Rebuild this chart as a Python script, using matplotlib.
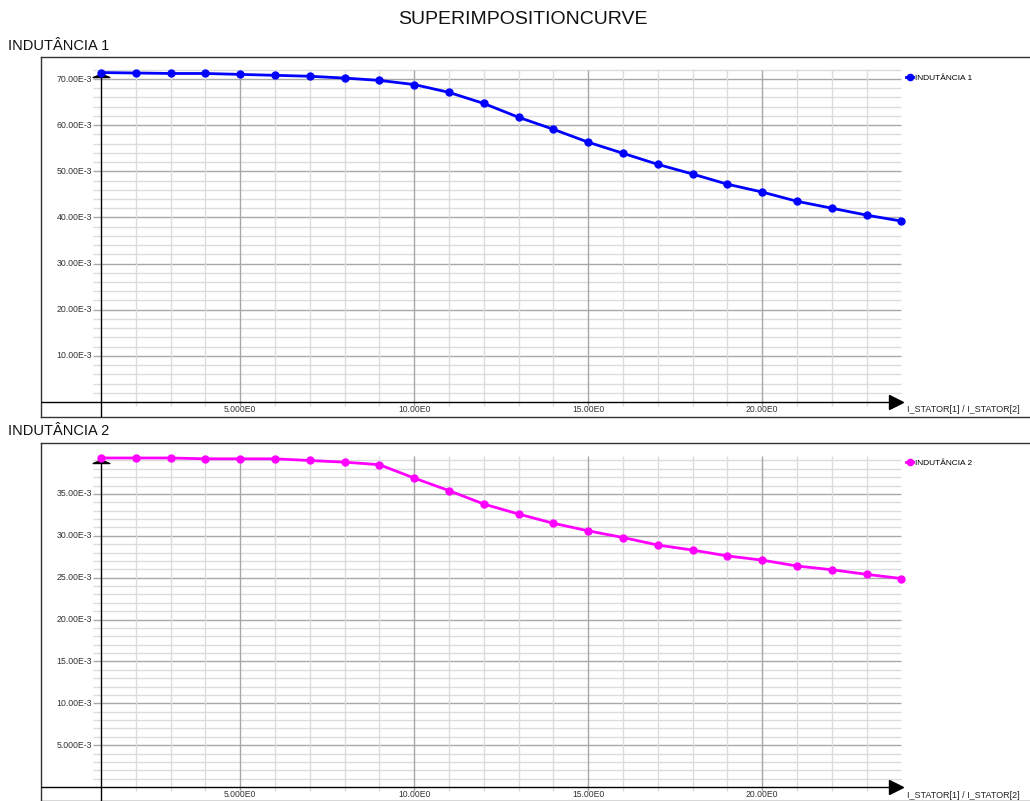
import numpy as np
import matplotlib
matplotlib.use("Agg")
import matplotlib.pyplot as plt
from matplotlib.path import Path

plt.rcParams['font.family'] = ['Liberation Sans', 'DejaVu Sans']

# data (values in E-3)
corrente = [1, 2, 3, 4, 5, 6, 7, 8, 9, 10, 11, 12, 13, 14, 15, 16, 17, 18, 19, 20, 21, 22, 23, 24]
indutancia1 = [71.4, 71.3, 71.2, 71.2, 71.0, 70.8, 70.6, 70.2, 69.7, 68.8, 67.1, 64.7,
               61.7, 59.1, 56.3, 53.9, 51.5, 49.4, 47.2, 45.5, 43.5, 42.0, 40.5, 39.2]
indutancia2 = [39.3, 39.3, 39.3, 39.2, 39.2, 39.2, 39.0, 38.8, 38.5, 36.9, 35.4, 33.8,
               32.6, 31.5, 30.6, 29.8, 28.9, 28.3, 27.6, 27.1, 26.4, 25.95, 25.4, 24.9]

x_ticks = [5, 10, 15, 20]
x_tick_labels = ["5.000E0", "10.00E0", "15.00E0", "20.00E0"]
y1_ticks = [10, 20, 30, 40, 50, 60, 70]
y1_tick_labels = ["10.00E-3", "20.00E-3", "30.00E-3", "40.00E-3", "50.00E-3", "60.00E-3", "70.00E-3"]
y2_ticks = [5, 10, 15, 20, 25, 30, 35]
y2_tick_labels = ["5.000E-3", "10.00E-3", "15.00E-3", "20.00E-3", "25.00E-3", "30.00E-3", "35.00E-3"]

W, H = 1030, 801
fig = plt.figure(figsize=(W / 100, H / 100), dpi=100)

# small flat triangle for the y-axis arrow
up_tri = Path([(-1, 0), (1, 0), (0, 0.4), (-1, 0)], [1, 2, 2, 79])


def panel(top_px, bot_px, ylim, data, color, name, yticks, ylabels, ystep, ytop, arrow_y, leg_px):
    ax = fig.add_axes([41 / W, 1 - bot_px / H, 1 - 41 / W + 0.01, (bot_px - top_px) / H])
    ax.set_xlim(-0.724, 27.99)
    ax.set_ylim(*ylim)
    ax.set_xticks([])
    ax.set_yticks([])
    ax.spines['right'].set_visible(False)
    for s in ['top', 'bottom', 'left']:
        ax.spines[s].set_color('#333333')
        ax.spines[s].set_linewidth(1.0)

    ybot = ylim[0]
    # grid
    for v in np.arange(ystep, ytop + 0.01, ystep):
        major = any(abs(v - t) < 1e-6 for t in yticks)
        ax.hlines(v, 0.78, 24, color='#a8a8a8' if major else '#dcdcdc', lw=1.0, zorder=1)
    for v in range(2, 24):
        ax.vlines(v, ybot * 0.25, ytop, color='#a8a8a8' if v % 5 == 0 else '#dcdcdc', lw=1.0, zorder=1)

    # axis lines with arrows
    ax.hlines(0, ax.get_xlim()[0], 23.7, color='black', lw=1.0, zorder=3)
    ax.vlines(1, ybot, arrow_y, color='black', lw=1.0, zorder=3)
    ax.plot([23.85], [0], marker='>', color='black', markersize=10, zorder=4, clip_on=False)
    ax.plot([1], [arrow_y], marker=up_tri, color='black', markersize=12, zorder=4)

    # tick labels
    for t, lab in zip(yticks, ylabels):
        ax.text(0.75, t, lab, ha='right', va='center', fontsize=6.3, color='#333333')
    for t, lab in zip(x_ticks, x_tick_labels):
        ax.text(t, ybot * 0.5, lab, ha='center', va='center', fontsize=6.2, color='#333333')

    ax.plot(corrente, data, color=color, lw=2.0, marker='o', markersize=5, label=name, zorder=5)
    ax.legend(loc='center left',
              bbox_to_anchor=((897 - 41) / 989, 1 - (leg_px - top_px) / (bot_px - top_px)),
              frameon=False, fontsize=6, handlelength=0.9, handletextpad=0.2,
              borderpad=0, borderaxespad=0, markerscale=0.9)
    return ax


ax1 = panel(57, 417, (-3.25, 74.77), indutancia1, '#0000ff', 'INDUTÂNCIA 1',
            y1_ticks, y1_tick_labels, 2, 72, 70.4, 78)
ax2 = panel(443, 801, (-1.67, 41.09), indutancia2, '#ff00ff', 'INDUTÂNCIA 2',
            y2_ticks, y2_tick_labels, 1, 39.5, 38.7, 463)

fig.text(907 / W, 1 - 410 / H, "I_STATOR[1] / I_STATOR[2]", ha='left', va='center', fontsize=6.5, color='#222222')
fig.text(907 / W, 1 - 795 / H, "I_STATOR[1] / I_STATOR[2]", ha='left', va='center', fontsize=6.5, color='#222222')

fig.text(523 / W, 1 - 20 / H, "SUPERIMPOSITIONCURVE", ha='center', va='center', fontsize=14, color='#111111')
fig.text(8 / W, 1 - 46 / H, "INDUTÂNCIA 1", ha='left', va='center', fontsize=10.5, color='#111111')
fig.text(8 / W, 1 - 431 / H, "INDUTÂNCIA 2", ha='left', va='center', fontsize=10.5, color='#111111')

fig.savefig("out.png", dpi=100)
